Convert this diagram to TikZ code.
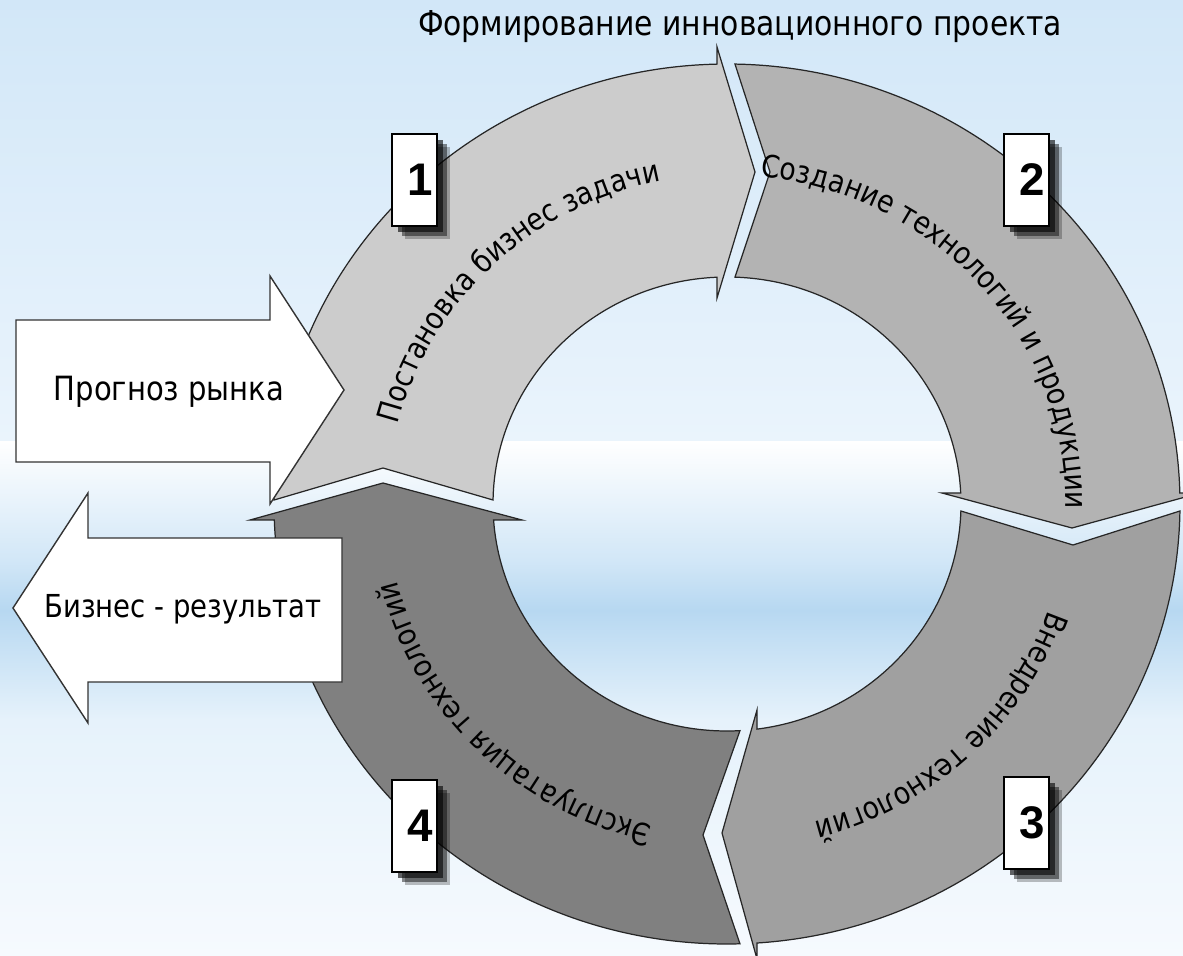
\documentclass[tikz,border=0pt]{standalone}
\usepackage{fontspec}
\setmainfont{DejaVu Sans}
\newfontfamily\labelfamily{DejaVu Sans}[FakeStretch=0.87]
\newfontfamily\numfont{Liberation Sans}
\usetikzlibrary{decorations.text,shadows}
\definecolor{segA}{HTML}{CCCCCC}
\definecolor{segB}{HTML}{B3B3B3}
\definecolor{segC}{HTML}{A0A0A0}
\definecolor{segD}{HTML}{808080}
\definecolor{skyA}{HTML}{D2E7F8}
\definecolor{skyB}{HTML}{EAF4FC}
\definecolor{skyC}{HTML}{D2E7F7}
\definecolor{skyD}{HTML}{B7D8F1}
\definecolor{skyE}{HTML}{E6F2FB}
\definecolor{skyF}{HTML}{F6FAFE}
\newcommand\ringfont{\labelfamily\fontsize{17.5pt}{20pt}\selectfont}
\begin{document}
\begin{tikzpicture}[x=0.02cm, y=0.02cm, line join=miter,
  ringseg/.style={draw=black!85, line width=0.7pt},
  flowarrow/.style={draw=black!80, fill=white, line width=0.8pt},
  ringtext/.style={decorate, decoration={text along path, text align=center, text={#1}}},
  numbox/.style={draw=black, line width=1.2pt, fill=white, minimum width=0.9cm,
    minimum height=1.84cm, text width=0.72cm, inner xsep=0.09cm, align=right,
    font=\numfont\bfseries\fontsize{26pt}{26pt}\selectfont,
    drop shadow={fill=black, opacity=0.25, shadow xshift=7.5pt, shadow yshift=-7.5pt},
    drop shadow={fill=black, opacity=0.45, shadow xshift=5.5pt, shadow yshift=-5.5pt},
    drop shadow={fill=black, opacity=0.6, shadow xshift=3.5pt, shadow yshift=-3.5pt}}]
  \useasboundingbox (0,0) rectangle (1183,-956);
  % background
  \shade[top color=skyA, bottom color=skyB] (0,0) rectangle (1183,-441);
  \shade[top color=white, bottom color=skyC] (0,-441) rectangle (1183,-560);
  \shade[top color=skyC, bottom color=skyD] (0,-560) rectangle (1183,-610);
  \shade[top color=skyD, bottom color=skyE] (0,-610) rectangle (1183,-720);
  \shade[top color=skyE, bottom color=skyF] (0,-720) rectangle (1183,-956);

  \node[font=\labelfamily\fontsize{19.5pt}{22pt}\selectfont] (title) at (740,-27) {Формирование инновационного проекта};

  % the ring of four arrows
  \begin{scope}[shift={(727,-504)}]
    \draw[ringseg, fill=segA] (179.48:453 and 440) arc[start angle=179.48, end angle=91.26, x radius=453, y radius=440]
      -- (-10,457) -- (28,332) -- (-10,206) -- (92.45:234 and 227)
      arc[start angle=92.45, end angle=178.99, x radius=234, y radius=227] -- (-344,36) -- cycle;
    \draw[ringseg, fill=segB] (88.99:453 and 440) arc[start angle=88.99, end angle=1.43, x radius=453, y radius=440]
      -- (473,11) -- (345,-24) -- (215,11) -- (2.78:234 and 227)
      arc[start angle=2.78, end angle=88.04, x radius=234, y radius=227] -- (43,332) -- cycle;
    \draw[ringseg, fill=segC] (-0.91:453 and 440) arc[start angle=-0.91, end angle=-86.2, x radius=453, y radius=440]
      -- (30,-455) -- (-5,-329) -- (30,-206) -- (-82.63:234 and 227)
      arc[start angle=-82.63, end angle=-1.77, x radius=234, y radius=227] -- (346,-41) -- cycle;
    \draw[ringseg, fill=segD] (-88.36:453 and 440) arc[start angle=-88.36, end angle=-177.92, x radius=453, y radius=440]
      -- (-477,-16) -- (-344,21) -- (-205,-16) -- (-175.96:234 and 227)
      arc[start angle=-175.96, end angle=-86.82, x radius=234, y radius=227] -- (-24,-331) -- cycle;

    \path[ringtext={|\ringfont|Постановка бизнес задачи}]
      (194:339 and 329) arc[start angle=194, end angle=74, x radius=339, y radius=329];
    \path[ringtext={|\ringfont|Создание технологий и продукции}]
      (101.5:339 and 329) arc[start angle=101.5, end angle=-18.5, x radius=339, y radius=329];
    \path[ringtext={|\ringfont|Внедрение технологий}]
      (13.5:339 and 329) arc[start angle=13.5, end angle=-106.5, x radius=339, y radius=329];
    \path[ringtext={|\ringfont|Эксплуатация технологий}]
      (-75:339 and 329) arc[start angle=-75, end angle=-195, x radius=339, y radius=329];
  \end{scope}

  % input and output
  \draw[flowarrow] (16,-320) -- (270,-320) -- (270,-276) -- (344,-390) -- (270,-504)
    -- (270,-462) -- (16,-462) -- cycle;
  \node[font=\labelfamily\fontsize{19pt}{22pt}\selectfont] (market) at (169,-392) {Прогноз рынка};
  \draw[flowarrow] (342,-538) -- (88,-538) -- (88,-493) -- (13,-608) -- (88,-723)
    -- (88,-682) -- (342,-682) -- cycle;
  \node[font=\labelfamily\fontsize{18pt}{21pt}\selectfont] (result) at (183,-609) {Бизнес - результат};

  % stage numbers
  \node[numbox] (box1) at (414.5,-180) {1};
  \node[numbox] (box2) at (1026.5,-180) {2};
  \node[numbox] (box3) at (1026.5,-823) {3};
  \node[numbox] (box4) at (414.5,-826) {4};
\end{tikzpicture}
\end{document}
